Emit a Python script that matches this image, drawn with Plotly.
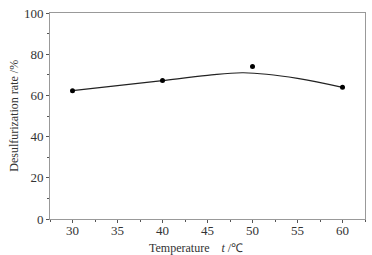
import plotly.graph_objects as go

temps = [30, 40, 50, 60]
rates = [62.3, 67.2, 74.0, 63.9]

fit_temps = [30, 35, 40, 45, 49, 55, 60]
fit_rates = [62.3, 64.7, 67.2, 69.7, 71.0, 68.3, 63.9]

fig = go.Figure()
fig.add_trace(go.Scatter(x=fit_temps, y=fit_rates, mode="lines",
                         line=dict(color="#222", width=1.2, shape="spline", smoothing=1.0),
                         showlegend=False, hoverinfo="skip"))
fig.add_trace(go.Scatter(x=temps, y=rates, mode="markers",
                         marker=dict(color="#000", size=5),
                         showlegend=False))

font = dict(family="Times New Roman, Liberation Serif, serif", size=12, color="#333")
tickfont = dict(family="Times New Roman, Liberation Serif, serif", size=13, color="#333")
axis_common = dict(showline=True, linecolor="#999", linewidth=1, mirror=True,
                   ticks="outside", tickcolor="#555", ticklen=3, tickwidth=1,
                   showgrid=False, zeroline=False, tickfont=tickfont)

fig.update_xaxes(range=[27.5, 62.5], tickvals=[30, 35, 40, 45, 50, 55, 60],
                 minor=dict(dtick=2.5, tick0=0, ticks="outside", ticklen=2, tickcolor="#555"),
                 ticklabelstandoff=-4,
                 **axis_common)
fig.update_yaxes(range=[0, 100], tickvals=[0, 20, 40, 60, 80, 100],
                 minor=dict(dtick=10, ticks="outside", ticklen=2, tickcolor="#555"),
                 **axis_common)

fig.add_annotation(text="Temperature    <i>t</i> /℃", xref="paper", yref="paper",
                   x=0.462, y=-0.095, xanchor="center", yanchor="top",
                   showarrow=False, font=font)
fig.add_annotation(text="Desulfurization rate /%", xref="paper", yref="paper",
                   x=-0.115, y=0.5, xanchor="center", yanchor="middle", textangle=-90,
                   showarrow=False, font=font)

fig.update_layout(width=372, height=255, margin=dict(l=50, r=6, t=10, b=36),
                  plot_bgcolor="white", paper_bgcolor="white", font=font)
fig.write_html("out.html", config={"displayModeBar": False},
               post_script="document.body.style.margin='0';document.body.style.padding='0';")
